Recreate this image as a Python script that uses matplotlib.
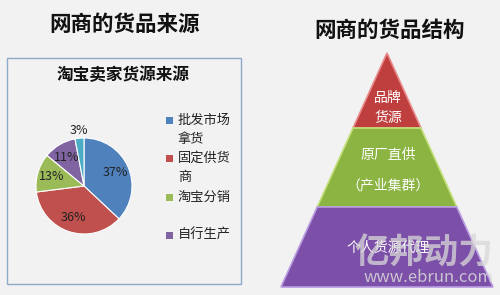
import matplotlib.pyplot as plt
from matplotlib.patches import Polygon, Rectangle
import numpy as np

plt.rcParams['font.family'] = ['Noto Sans CJK SC', 'DejaVu Sans']

# pie data
pie_labels = ["批发市场\n拿货", "固定供货\n商", "淘宝分销", "自行生产", ""]
pie_values = [37, 36, 13, 11, 3]
pie_colors = ["#4f81bd", "#c0504d", "#9bbb59", "#8064a2", "#4bacc6"]

# pyramid tiers, top to bottom
tier_labels = ["品牌\n货源", "原厂直供\n（产业集群）", "个人货源代理"]
tier_colors = ["#bf3f3f", "#8cb443", "#7c4fa8"]
tier_edges = ["#e88a8a", "#c3e07a", "#b89be0"]

W, H = 500, 295
fig = plt.figure(figsize=(W / 100, H / 100), dpi=100)
fig.patch.set_facecolor("#f2f2f2")

bg = fig.add_axes([0, 0, 1, 1])
bg.set_xlim(0, W)
bg.set_ylim(H, 0)
bg.axis("off")

# left side
bg.text(125, 24, "网商的货品来源", ha="center", va="center", fontsize=15.5, fontweight="bold", color="#111111")
bg.add_patch(Rectangle((7, 58), 234, 226, facecolor="#f2f2f2", edgecolor="#8eaacb", lw=1))
bg.text(123, 75, "淘宝卖家货源来源", ha="center", va="center", fontsize=12, fontweight="bold", color="#111111")

cx, cy, r = 84, 186, 60
pax = fig.add_axes([(cx - r) / W, (H - cy - r) / H, 2 * r / W, 2 * r / H])
wedges, _ = pax.pie(pie_values, colors=pie_colors, startangle=90, counterclock=False,
                    wedgeprops=dict(linewidth=0.8, edgecolor="white"))
pax.set_aspect("equal")
total = sum(pie_values)
ang = 90.0
for v in pie_values:
    mid = np.deg2rad(ang - v / total * 180)
    ang -= v / total * 360
    d = 1.17 if v < 5 else 0.7
    pax.text(d * np.cos(mid), d * np.sin(mid), "%d%%" % v, ha="center", va="center",
             fontsize=9, color="#222222")

# legend
leg_y = [120, 158, 197, 235]
for lab, col, y in zip(pie_labels, pie_colors, leg_y):
    bg.add_patch(Rectangle((166, y - 3.5), 7, 7, facecolor=col, edgecolor="none"))
    for k, line in enumerate(lab.split("\n")):
        bg.text(178, y + k * 19, line, ha="left", va="center", fontsize=9.5, color="#222222")

# right side
bg.text(390, 30, "网商的货品结构", ha="center", va="center", fontsize=15.5, fontweight="bold", color="#111111")
apex_x, apex_y = 387, 53
ys = [apex_y, 128, 207, 287]
slope = 106 / (287 - apex_y)
text_y = [(98, 20), (155, 30), (248, 0)]
for i, (lab, col, ec) in enumerate(zip(tier_labels, tier_colors, tier_edges)):
    y0, y1 = ys[i], ys[i + 1]
    h0 = (y0 - apex_y) * slope
    h1 = (y1 - apex_y) * slope
    pts = [(apex_x - h0, y0), (apex_x + h0, y0), (apex_x + h1, y1), (apex_x - h1, y1)]
    bg.add_patch(Polygon(pts, closed=True, facecolor=col, edgecolor=ec, lw=1.2))
    ty, dy = text_y[i]
    for k, line in enumerate(lab.split("\n")):
        bg.text(apex_x + 1, ty + k * dy, line, ha="center", va="center", fontsize=10, color="white")

# watermark
bg.text(424, 253, "亿邦动力", ha="center", va="center", fontsize=25, fontweight="bold",
        color="#d8d8d8", alpha=0.75)
bg.text(428, 277, "www.ebrun.com", ha="center", va="center", fontsize=12, color="#d8d8d8", alpha=0.85)

fig.savefig("out.png", dpi=100, facecolor=fig.get_facecolor())
